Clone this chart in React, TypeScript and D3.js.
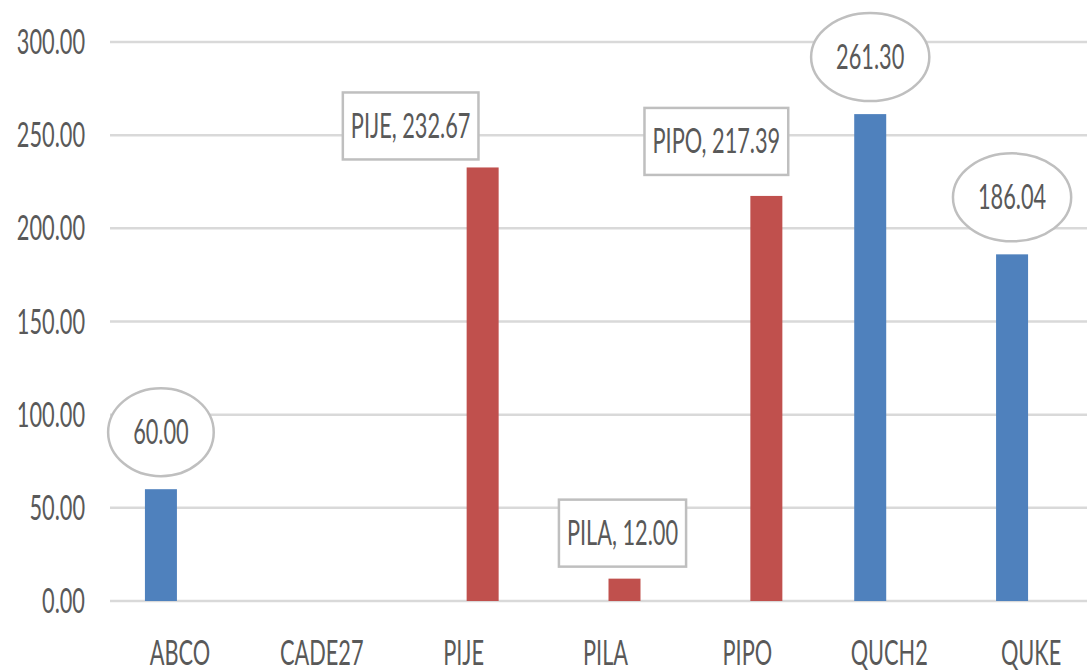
import React, { useRef, useEffect } from 'react'
import * as d3 from 'd3'

// data
const categories = ['ABCO', 'CADE27', 'PIJE', 'PILA', 'PIPO', 'QUCH2', 'QUKE']
const blueValues: (number | null)[] = [60.0, null, null, null, null, 261.3, 186.04]
const redValues: (number | null)[] = [null, null, 232.67, 12.0, 217.39, null, null]
const yTicks = [0, 50, 100, 150, 200, 250, 300]

// hand-placed callout nudges (dx, gap above bar), like the dragged labels in the original
const redLabelNudge: Record<string, [number, number]> = {
  PIJE: [-72, 8],
  PILA: [-2, 12],
  PIPO: [-50, 21],
}

const W = 1087
const H = 672
const FONT = 'Lato, "Open Sans", sans-serif'
const FS = 34
const SX = 0.64
const TEXT = '#595959'
const BLUE = '#4f81bd'
const RED = '#c0504d'
const CALLOUT = '#bfbfbf'

export default function App() {
  const svgRef = useRef<SVGSVGElement>(null)

  useEffect(() => {
    const svg = d3.select(svgRef.current)
    svg.selectAll('*').remove()

    const x = d3.scaleBand<string>().domain(categories).range([109, 1102]).padding(0)
    const sub = d3.scaleBand<string>().domain(['blue', 'red']).range([-35, 35]).paddingInner(0.158)
    const y = d3.scaleLinear().domain([0, 300]).range([601, 42])

    // squeezed text like the original condensed font
    const addText = (parent: any, tx: number, ty: number, str: string, anchor: string) => {
      const t = parent
        .append('g')
        .attr('transform', `translate(${tx},${ty}) scale(${SX},1)`)
        .append('text')
        .attr('text-anchor', anchor)
        .attr('font-family', FONT)
        .attr('font-size', FS)
        .attr('fill', TEXT)
        .text(str)
      return t
    }

    // gridlines
    svg.append('g')
      .selectAll('line')
      .data(yTicks)
      .join('line')
      .attr('x1', 110)
      .attr('x2', W)
      .attr('y1', d => y(d))
      .attr('y2', d => y(d))
      .attr('stroke', '#d9d9d9')
      .attr('stroke-width', 2.5)

    // y labels
    const yAxis = svg.append('g')
    yTicks.forEach(t => addText(yAxis, 85, y(t) + 12, d3.format('.2f')(t), 'end'))

    // x labels
    const xAxis = svg.append('g')
    categories.forEach(c => addText(xAxis, x(c)! + x.bandwidth() / 2, 665, c, 'middle'))

    const blue = categories.map((c, i) => ({ c, v: blueValues[i] })).filter(d => d.v != null) as { c: string; v: number }[]
    const red = categories.map((c, i) => ({ c, v: redValues[i] })).filter(d => d.v != null) as { c: string; v: number }[]

    const cx = (c: string, s: string) => x(c)! + x.bandwidth() / 2 + sub(s)! + sub.bandwidth() / 2

    svg.append('g')
      .selectAll('rect')
      .data(blue)
      .join('rect')
      .attr('x', d => cx(d.c, 'blue') - sub.bandwidth() / 2)
      .attr('width', sub.bandwidth())
      .attr('y', d => y(d.v))
      .attr('height', d => y(0) - y(d.v))
      .attr('fill', BLUE)

    svg.append('g')
      .selectAll('rect')
      .data(red)
      .join('rect')
      .attr('x', d => cx(d.c, 'red') - sub.bandwidth() / 2)
      .attr('width', sub.bandwidth())
      .attr('y', d => y(d.v))
      .attr('height', d => y(0) - y(d.v))
      .attr('fill', RED)

    // ellipse callouts for the blue series
    const ry = 44
    blue.forEach(d => {
      const g = svg.append('g')
      const ex = cx(d.c, 'blue')
      const ey = y(d.v) - 13 - ry
      const el = g.append('ellipse')
        .attr('cx', ex)
        .attr('cy', ey)
        .attr('ry', ry)
        .attr('fill', '#fff')
        .attr('stroke', CALLOUT)
        .attr('stroke-width', 2.5)
      const t = addText(g, ex, ey + 12, d3.format('.2f')(d.v), 'middle')
      const w = (t.node() as SVGTextElement).getComputedTextLength() * SX
      el.attr('rx', w / 2 + 25)
    })

    // box callouts for the red series
    const boxH = 67
    red.forEach(d => {
      const [dx, gap] = redLabelNudge[d.c] || [0, 10]
      const g = svg.append('g')
      const bx = cx(d.c, 'red') + dx
      const bottom = y(d.v) - gap
      const r = g.append('rect')
        .attr('y', bottom - boxH)
        .attr('height', boxH)
        .attr('fill', '#fff')
        .attr('stroke', CALLOUT)
        .attr('stroke-width', 2.5)
      const t = addText(g, bx, bottom - boxH / 2 + 12, `${d.c}, ${d3.format('.2f')(d.v)}`, 'middle')
      const w = (t.node() as SVGTextElement).getComputedTextLength() * SX
      r.attr('x', bx - w / 2 - 8).attr('width', w + 16)
    })
  }, [])

  return (
    <svg
      ref={svgRef}
      width={W}
      height={H}
      style={{ position: 'absolute', left: 0, top: 0, display: 'block', background: '#fff' }}
    />
  )
}
